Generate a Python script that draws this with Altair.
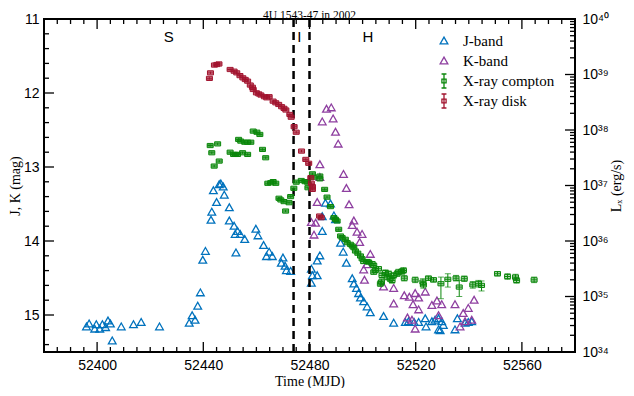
import altair as alt
import pandas as pd
import numpy as np

# ---------------- data ----------------
j_mjd = [52396.0, 52397.0, 52399.1, 52399.7, 52401.0, 52402.0, 52403.2, 52404.1, 52405.0, 52405.7,
         52409.1, 52413.7, 52416.6, 52423.5, 52434.7, 52435.8, 52436.9, 52437.9, 52438.9, 52439.8,
         52440.8, 52442.9, 52443.2, 52443.8, 52445.0, 52446.0, 52446.6, 52447.5, 52447.9, 52449.8,
         52449.8, 52451.6, 52452.0, 52452.3, 52452.9, 52453.9, 52455.6, 52459.8, 52460.6, 52462.7,
         52464.8, 52463.8, 52466.0, 52470.0, 52469.4, 52470.8, 52471.3, 52472.9, 52480.7, 52481.1,
         52482.9, 52480.7, 52482.9, 52483.9, 52486.0, 52487.9, 52489.2, 52489.8, 52484.8, 52484.8,
         52491.7, 52492.7, 52493.9, 52496.1, 52496.7, 52497.7, 52498.5, 52499.2, 52500.4, 52501.7,
         52502.9, 52507.9, 52511.7, 52516.1, 52517.3, 52519.4, 52521.1, 52523.6, 52523.9, 52526.1,
         52527.3, 52528.6, 52529.8, 52530.4, 52528.6, 52529.2, 52534.8, 52535.7, 52538.6, 52539.8,
         52541.1]
j_mag = [15.16, 15.12, 15.19, 15.13, 15.19, 15.13, 15.17, 15.08, 15.12, 15.35,
         15.16, 15.13, 15.10, 15.16, 15.11, 15.01, 15.07, 14.88, 14.70, 14.26,
         14.14, 13.72, 13.61, 13.32, 13.48, 13.24, 13.23, 13.27, 13.38, 13.55,
         13.73, 13.80, 13.91, 14.16, 13.87, 13.91, 13.98, 13.84, 13.93, 14.06,
         14.15, 14.21, 14.21, 14.23, 14.30, 14.34, 14.40, 14.41, 14.38, 14.47,
         14.47, 14.57, 14.27, 14.20, 13.49, 13.50, 13.66, 13.71, 13.67, 13.87,
         14.03, 14.15, 14.30, 14.51, 14.58, 14.64, 14.71, 14.77, 14.82, 14.89,
         14.97, 15.02, 15.11, 15.10, 15.09, 15.10, 15.10, 15.05, 15.16, 15.09,
         15.07, 15.05, 15.09, 15.14, 15.20, 15.21, 15.20, 15.05, 15.11, 15.10,
         15.09]

k_mjd = [52480.7, 52481.7, 52482.3, 52482.9, 52483.9, 52483.9, 52484.8, 52486.4, 52488.2, 52488.9,
         52489.8, 52490.8, 52492.8, 52493.9, 52494.9, 52496.1, 52496.7, 52497.9, 52498.9, 52499.8,
         52500.4, 52500.7, 52501.6, 52502.9, 52507.9, 52511.7, 52511.7, 52515.7, 52516.9, 52517.6,
         52518.6, 52519.0, 52519.8, 52519.8, 52521.1, 52521.1, 52523.6, 52526.1, 52528.0, 52528.6,
         52529.8, 52534.8, 52536.7, 52537.9, 52538.6, 52539.8, 52541.1, 52542.0]
k_mag = [13.75, 13.92, 13.76, 13.48, 12.97, 13.14, 12.39, 12.22, 12.20, 12.35,
         12.53, 12.69, 13.10, 13.29, 13.51, 13.79, 13.73, 13.88, 14.02, 13.91,
         14.39, 14.53, 14.32, 14.18, 14.62, 14.64, 14.85, 14.74, 15.04, 14.76,
         15.07, 14.86, 14.71, 15.19, 14.77, 14.93, 14.69, 14.87, 14.81, 15.01,
         14.86, 14.86, 15.16, 14.98, 15.09, 14.91, 15.07, 14.80]

# X-ray compton component: MJD, log10 L (erg/s), lower / upper error (dex)
g_mjd = [52442.6, 52443.2, 52444.1, 52445.4, 52446.0, 52450.1, 52451.4, 52452.1, 52452.9, 52453.3,
         52454.1, 52454.8, 52455.6, 52456.7, 52456.7, 52457.9, 52458.8, 52460.2, 52461.3, 52462.3,
         52463.5, 52464.3, 52465.4, 52466.3, 52467.3, 52468.5, 52469.2, 52470.4, 52471.0, 52472.3,
         52472.9, 52474.1, 52475.0, 52476.9, 52478.3, 52479.2, 52479.4, 52481.1, 52481.4, 52483.9,
         52483.9, 52485.7, 52486.6, 52487.9, 52489.2, 52489.8, 52490.4, 52491.0, 52491.7, 52492.3,
         52493.5, 52494.2, 52495.4, 52496.1, 52496.7, 52497.3, 52498.2, 52499.2, 52499.8, 52500.4,
         52501.7, 52502.3, 52503.6, 52504.2, 52504.2, 52504.8, 52506.0, 52506.7, 52507.1, 52507.3,
         52508.6, 52509.2, 52509.8, 52510.4, 52511.1, 52511.7, 52513.0, 52513.5, 52514.8, 52515.4,
         52515.7, 52519.8, 52522.7, 52522.9, 52524.8, 52526.7, 52529.5, 52532.1, 52535.2, 52536.4,
         52538.3, 52541.5, 52543.6, 52544.8, 52550.8, 52554.6, 52557.6, 52558.0, 52564.6]
g_log = [37.72, 37.59, 37.35, 37.75, 37.44, 37.60, 37.56, 37.56, 37.56, 37.83,
         37.80, 37.59, 37.78, 37.78, 37.56, 37.78, 37.98, 37.96, 37.92, 37.65,
         37.50, 37.04, 37.05, 37.07, 37.04, 36.77, 36.74, 36.71, 36.54, 36.69,
         36.80, 36.95, 37.06, 37.09, 37.07, 37.06, 36.96, 37.21, 37.15, 37.17,
         37.12, 36.93, 36.79, 36.62, 36.42, 36.39, 36.36, 36.21, 36.09, 36.06,
         36.03, 35.97, 35.94, 35.91, 35.88, 35.82, 35.78, 35.73, 35.68, 35.63,
         35.63, 35.62, 35.59, 35.56, 35.44, 35.47, 35.50, 35.23, 35.26, 35.38,
         35.43, 35.35, 35.41, 35.32, 35.29, 35.38, 35.41, 35.44, 35.45, 35.47,
         35.33, 35.30, 35.26, 35.21, 35.33, 35.30, 35.23, 35.31, 35.33, 35.17,
         35.32, 35.21, 35.23, 35.20, 35.41, 35.36, 35.35, 35.29, 35.30]
g_elo = [0.02, 0.02, 0.02, 0.02, 0.02, 0.02, 0.02, 0.02, 0.02, 0.02,
         0.02, 0.02, 0.02, 0.02, 0.02, 0.02, 0.02, 0.02, 0.02, 0.02,
         0.02, 0.02, 0.02, 0.02, 0.02, 0.02, 0.02, 0.02, 0.02, 0.02,
         0.02, 0.02, 0.02, 0.02, 0.02, 0.02, 0.02, 0.02, 0.02, 0.02,
         0.02, 0.02, 0.02, 0.02, 0.02, 0.02, 0.02, 0.02, 0.02, 0.02,
         0.02, 0.02, 0.02, 0.02, 0.02, 0.02, 0.02, 0.02, 0.02, 0.03,
         0.03, 0.03, 0.04, 0.04, 0.04, 0.04, 0.04, 0.05, 0.05, 0.05,
         0.05, 0.05, 0.05, 0.05, 0.05, 0.05, 0.05, 0.05, 0.05, 0.05,
         0.05, 0.05, 0.06, 0.06, 0.04, 0.04, 0.27, 0.14, 0.05, 0.17,
         0.05, 0.06, 0.06, 0.10, 0.04, 0.05, 0.05, 0.05, 0.05]
g_ehi = [0.02, 0.02, 0.02, 0.02, 0.02, 0.02, 0.02, 0.02, 0.02, 0.02,
         0.02, 0.02, 0.02, 0.02, 0.02, 0.02, 0.02, 0.02, 0.02, 0.02,
         0.02, 0.02, 0.02, 0.02, 0.02, 0.02, 0.02, 0.02, 0.02, 0.02,
         0.02, 0.02, 0.02, 0.02, 0.02, 0.02, 0.02, 0.02, 0.02, 0.02,
         0.02, 0.02, 0.02, 0.02, 0.02, 0.02, 0.02, 0.02, 0.02, 0.02,
         0.02, 0.02, 0.02, 0.02, 0.02, 0.02, 0.02, 0.02, 0.02, 0.03,
         0.03, 0.03, 0.04, 0.04, 0.04, 0.04, 0.04, 0.05, 0.05, 0.05,
         0.05, 0.05, 0.05, 0.05, 0.05, 0.05, 0.05, 0.05, 0.05, 0.05,
         0.05, 0.05, 0.06, 0.06, 0.04, 0.04, 0.12, 0.10, 0.05, 0.12,
         0.05, 0.06, 0.06, 0.08, 0.04, 0.05, 0.05, 0.05, 0.05]

# X-ray disk component
r_mjd = [52442.3, 52442.7, 52444.2, 52445.1, 52445.9, 52450.1, 52451.6, 52452.6, 52453.8, 52454.9,
         52455.8, 52456.7, 52457.7, 52458.5, 52458.8, 52460.0, 52460.9, 52461.7, 52463.0, 52463.9,
         52464.8, 52466.3, 52467.3, 52468.4, 52469.5, 52470.4, 52471.1, 52472.6, 52473.1, 52474.2,
         52475.0, 52477.0, 52478.6, 52479.7, 52480.5, 52480.7, 52481.1, 52481.1, 52483.8, 52484.4]
r_log = [38.93, 39.03, 39.17, 39.18, 39.19, 39.09, 39.06, 39.03, 38.98, 38.94,
         38.91, 38.88, 38.81, 38.77, 38.73, 38.67, 38.65, 38.63, 38.60, 38.58,
         38.60, 38.52, 38.49, 38.46, 38.42, 38.39, 38.36, 38.28, 38.23, 38.06,
         37.96, 37.62, 37.47, 37.40, 37.14, 37.04, 36.98, 36.93, 36.45, 36.42]
r_err = [0.02] * 40

state_bounds = [52474.0, 52480.0]
state_labels = ["S", "I", "H"]
state_mjd = [52427.0, 52476.2, 52502.0]
state_mag = [11.24, 11.24, 11.24]

SERIES = ["J-band", "K-band", "X-ray compton", "X-ray disk"]
COLORS = ["#0072BD", "#8E3FA0", "#0B870B", "#A2142F"]

# axis ticks / labels
x_major = [52400, 52440, 52480, 52520, 52560]
x_minor = [v for v in range(52380, 52581, 5) if v not in x_major]
y_major = [11, 12, 13, 14, 15]
y_minor = [round(11 + 0.2 * i, 1) for i in range(23) if i % 5 != 0]
lx_major = [1e34, 1e35, 1e36, 1e37, 1e38, 1e39, 1e40]
lx_minor = [k * 10.0 ** n for n in range(34, 40) for k in range(2, 10)]
lx_labels = ["10\u00b3\u2074", "10\u00b3\u2075", "10\u00b3\u2076", "10\u00b3\u2077",
             "10\u00b3\u2078", "10\u00b3\u2079", "10\u2074\u2070"]

# ---------------- build ----------------
W, H = 531, 333
SANS = "Liberation Sans"
SERIF = "Liberation Serif"
TRI = "M0,-0.55L0.55,0.42L-0.55,0.42Z"
ERRSYM = "M0,-1V1M-0.35,-1H0.35M-0.35,1H0.35M-0.3,-0.28H0.3V0.28H-0.3Z"
XMARK = "M-1,-0.7H1V0.7H-1ZM-1,0H1"
SHAPES = [TRI, TRI, ERRSYM, ERRSYM]

opt = pd.DataFrame({
    "mjd": j_mjd + k_mjd,
    "mag": j_mag + k_mag,
    "series": [SERIES[0]] * len(j_mjd) + [SERIES[1]] * len(k_mjd),
})


def xray_frame(mjd, logl, elo, ehi):
    lg = np.array(logl)
    return pd.DataFrame({
        "mjd": mjd,
        "L": 10.0 ** lg,
        "lo": 10.0 ** (lg - np.array(elo)),
        "hi": 10.0 ** (lg + np.array(ehi)),
    })


gdf = xray_frame(g_mjd, g_log, g_elo, g_ehi)
rdf = xray_frame(r_mjd, r_log, r_err, r_err)

xscale = alt.Scale(domain=[52380, 52580], nice=False, zero=False)
ymag = alt.Scale(domain=[11, 15.5], reverse=True, nice=False, zero=False)
ylx = alt.Scale(type="log", domain=[1e34, 1e40], nice=False)

common = dict(domain=False, grid=False, ticks=False,
              labelColor="black", titleColor="black", labelFont=SANS, labelFontSize=14,
              titleFont=SERIF, titleFontWeight="normal",
              labelFlush=False, labelOverlap=False)

x_axis_bottom = alt.Axis(orient="bottom", values=x_major, format="d", labelPadding=6,
                         title="Time (MJD)", titleFontSize=14, titleBaseline="alphabetic",
                         titleY=33, **common)
y_axis_left = alt.Axis(orient="left", values=y_major, format="d", labelPadding=5,
                       title="J, K (mag)", titlePadding=1, titleFontSize=14, **common)
lx_expr = ""
for v, lab in zip(lx_major, lx_labels):
    lx_expr += f"abs(log(datum.value)/LN10 - {np.log10(v):.0f}) < 0.001 ? '{lab}' : "
lx_expr += "''"
y_axis_right = alt.Axis(orient="right", values=lx_major, labelExpr=lx_expr, labelPadding=7,
                        title="L\u2093 (erg/s)", titleAngle=270, titleBaseline="top",
                        titlePadding=1, titleFontSize=14, **common)

leg = alt.Legend(title=None, orient="none", legendX=392, legendY=14, labelFont=SERIF,
                 labelFontSize=15, labelColor="black", symbolSize=196, gridAlign="all",
                 symbolStrokeWidth=1.3, labelOffset=11, rowPadding=0, padding=0)

opt_pts = alt.Chart(opt).mark_point(filled=False, strokeWidth=1.3, size=196, opacity=1).encode(
    x=alt.X("mjd:Q", scale=xscale, axis=x_axis_bottom),
    y=alt.Y("mag:Q", scale=ymag, axis=y_axis_left),
    color=alt.Color("series:N", scale=alt.Scale(domain=SERIES, range=COLORS), legend=leg),
    shape=alt.Shape("series:N", scale=alt.Scale(domain=SERIES, range=SHAPES), legend=leg),
)

vlines = alt.Chart(pd.DataFrame({"mjd": state_bounds})).mark_rule(
    color="black", strokeWidth=2.5, strokeDash=[8, 5]
).encode(x=alt.X("mjd:Q", scale=xscale, axis=None))

labels = alt.Chart(pd.DataFrame({"mjd": state_mjd, "mag": state_mag, "lab": state_labels})).mark_text(
    font=SANS, fontSize=15, color="black"
).encode(
    x=alt.X("mjd:Q", scale=xscale, axis=None),
    y=alt.Y("mag:Q", scale=ymag, axis=None),
    text="lab:N",
)


def xray_layers(df, color, axis):
    xenc = alt.X("mjd:Q", scale=xscale, axis=None)
    err = alt.Chart(df).mark_rule(color=color, strokeWidth=1).encode(
        x=xenc, y=alt.Y("lo:Q", scale=ylx, axis=axis), y2="hi:Q")
    cap_lo = alt.Chart(df).mark_tick(color=color, orient="horizontal", size=6, thickness=1).encode(
        x=xenc, y=alt.Y("lo:Q", scale=ylx, axis=None))
    cap_hi = alt.Chart(df).mark_tick(color=color, orient="horizontal", size=6, thickness=1).encode(
        x=xenc, y=alt.Y("hi:Q", scale=ylx, axis=None))
    pts = alt.Chart(df).mark_point(shape=XMARK, size=36, filled=True, fill=color, fillOpacity=0.3,
                                   stroke=color, strokeWidth=1, opacity=1).encode(
        x=xenc, y=alt.Y("L:Q", scale=ylx, axis=None))
    return [err, cap_lo, cap_hi, pts]


# inward tick marks on all four sides, placed through the scales
def xticks(vals, length):
    base = alt.Chart(pd.DataFrame({"v": vals})).mark_rule(color="black", strokeWidth=1.3)
    x = alt.X("v:Q", scale=xscale, axis=None)
    return [base.encode(x=x, y=alt.value(H), y2=alt.value(H - length)),
            base.encode(x=x, y=alt.value(0), y2=alt.value(length))]


def yticks(vals, scale, length, side):
    base = alt.Chart(pd.DataFrame({"v": vals})).mark_rule(color="black", strokeWidth=1.3)
    y = alt.Y("v:Q", scale=scale, axis=None)
    if side == "left":
        return [base.encode(y=y, x=alt.value(0), x2=alt.value(length))]
    return [base.encode(y=y, x=alt.value(W), x2=alt.value(W - length))]


tick_layers = (xticks(x_major, 10) + xticks(x_minor, 5)
               + yticks(y_major, ymag, 10, "left") + yticks(y_minor, ymag, 5, "left")
               + yticks(lx_major, ylx, 10, "right") + yticks(lx_minor, ylx, 5, "right"))

chart = alt.layer(
    opt_pts, vlines, labels,
    *xray_layers(gdf, COLORS[2], y_axis_right),
    *xray_layers(rdf, COLORS[3], None),
    *tick_layers,
).resolve_scale(y="independent").resolve_axis(x="independent").properties(
    width=W, height=H,
    title=alt.TitleParams("4U 1543-47 in 2002", font=SERIF, fontSize=11.5, fontWeight="normal",
                          offset=-9, anchor="middle", color="black", frame="group"),
    autosize=alt.AutoSizeParams(type="none"),
    padding={"left": 36, "top": 11, "right": 51, "bottom": 36},
).configure_view(stroke="black", strokeWidth=2)

chart.save("out.html", embed_options={"renderer": "svg", "actions": False})
